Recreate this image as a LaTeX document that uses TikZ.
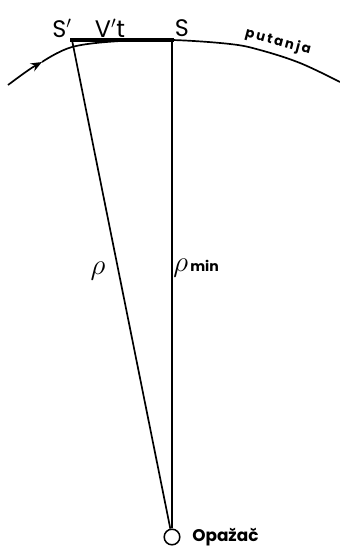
\documentclass[tikz,border=0pt]{standalone}
\usepackage{fontspec}
\setmainfont{Poppins}
\newfontfamily\orbitfont[LetterSpace=16]{Poppins}
\usetikzlibrary{arrows.meta}

\begin{document}
\begin{tikzpicture}[x=0.025cm, y=-0.025cm, every node/.style={inner sep=0pt},
	thin line/.style={line width=1.2pt},
	pt label/.style={font=\fontsize{17}{19}\selectfont},
	obs/.style={draw, circle, line width=1.1pt, minimum size=3.9mm, inner sep=0pt}]
	\useasboundingbox (0,0) rectangle (340,546);
	\coordinate (Sp) at (72,40);
	\coordinate (S) at (172,40);
	\coordinate (arr) at (42,62);
	\node[obs] (O) at (172,537) {};
	% orbit
	\draw[thin line, -{Stealth[length=2.8mm, width=2.2mm]}] (8,85) .. controls (20,76) and (31,68) .. (arr);
	\draw[thin line] plot[smooth, tension=0.6] coordinates {(42,62) (72,47) (120,41) (172,40) (230,44) (260,50) (300,63) (340,82)};
	\foreach \a/\b in {Sp/O, S/O} {\draw[thin line] (\a) -- (\b);}
	\draw[line width=2.6pt, line cap=rect] (Sp) -- (S);
	\node[pt label] (lSp) at (62,28) {S$'$};
	\node[pt label] (lVt) at (110,28) {V$'$t};
	\node[pt label] (lS) at (182,28) {S};
	\node[rotate=-15, font=\orbitfont\bfseries\fontsize{9.5}{11}\selectfont] (lput) at (278,42) {putanja};
	\node[font=\huge] (lrho) at (98,271) {$\rho$};
	\node[anchor=west] (lrmin) at (173,268) {{\huge$\rho$}\,{\bfseries\fontsize{10}{12}\selectfont min}};
	\node[anchor=west, font=\bfseries\large] (lO) at (192,537) {Opažač};
\end{tikzpicture}
\end{document}
